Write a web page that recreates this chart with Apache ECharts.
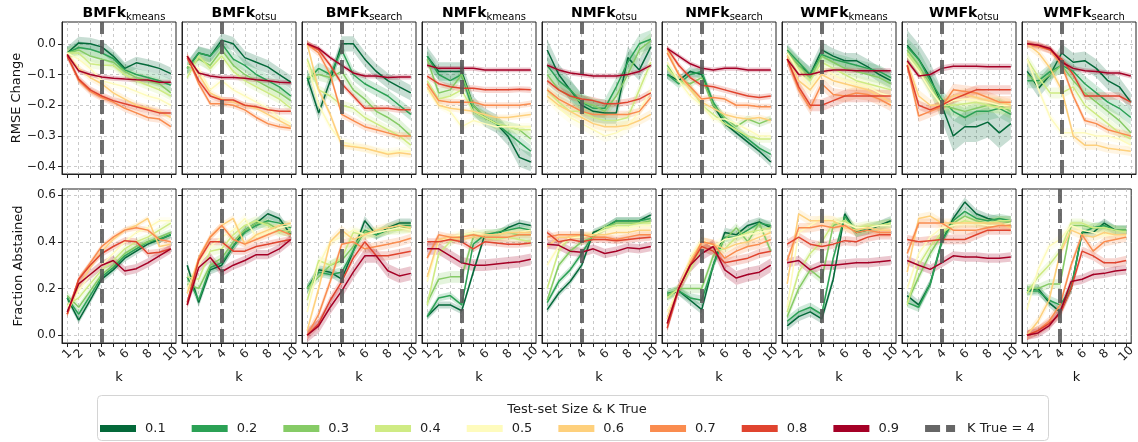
<!DOCTYPE html>
<html>
<head>
<meta charset="utf-8">
<script src="https://cdn.jsdelivr.net/npm/echarts@6/dist/echarts.min.js"></script>
<style>
html, body { margin: 0; padding: 0; background: #fff; }
#chart { width: 1138px; height: 442px; }
</style>
</head>
<body>
<div id="chart"></div>
<script>
var kValues = [1, 2, 3, 4, 5, 6, 7, 8, 9, 10];
var kLabelValues = [1, 2, 4, 6, 8, 10];
var kTrue = 4;
var testSizes = ['0.1', '0.2', '0.3', '0.4', '0.5', '0.6', '0.7', '0.8', '0.9'];
var methodNames = ['BMFk', 'BMFk', 'BMFk', 'NMFk', 'NMFk', 'NMFk', 'WMFk', 'WMFk', 'WMFk'];
var methodSubs = ['kmeans', 'otsu', 'search', 'kmeans', 'otsu', 'search', 'kmeans', 'otsu', 'search'];
var rmseTicks = [-0.4, -0.3, -0.2, -0.1, 0];
var abstTicks = [0, 0.2, 0.4, 0.6];

// RMSE Change, one row per test-set size (0.1 .. 0.9), values for k = 1..10
var rmseBmfkKmeans = [
	[-0.03, 0.003, 0.0, -0.01, -0.04, -0.08, -0.062, -0.07, -0.08, -0.097],
	[-0.03, -0.012, -0.018, -0.03, -0.048, -0.085, -0.1, -0.11, -0.12, -0.135],
	[-0.03, -0.02, -0.04, -0.05, -0.06, -0.09, -0.11, -0.12, -0.13, -0.16],
	[-0.03, -0.03, -0.065, -0.07, -0.07, -0.1, -0.12, -0.135, -0.15, -0.17],
	[-0.03, -0.05, -0.08, -0.12, -0.13, -0.14, -0.155, -0.17, -0.18, -0.2],
	[-0.035, -0.08, -0.11, -0.13, -0.16, -0.18, -0.2, -0.21, -0.22, -0.24],
	[-0.035, -0.12, -0.155, -0.175, -0.19, -0.21, -0.225, -0.24, -0.245, -0.27],
	[-0.04, -0.115, -0.15, -0.17, -0.185, -0.195, -0.205, -0.215, -0.225, -0.225],
	[-0.035, -0.088, -0.1, -0.108, -0.112, -0.115, -0.117, -0.118, -0.125, -0.125]
];
var rmseBmfkOtsu = [
	[-0.08, -0.03, -0.04, 0.012, 0.0, -0.045, -0.06, -0.075, -0.1, -0.125],
	[-0.08, -0.03, -0.04, 0.0, -0.05, -0.07, -0.1, -0.12, -0.14, -0.17],
	[-0.08, -0.05, -0.07, -0.02, -0.07, -0.1, -0.12, -0.14, -0.16, -0.185],
	[-0.11, -0.04, -0.08, -0.04, -0.09, -0.12, -0.14, -0.16, -0.18, -0.21],
	[-0.07, -0.08, -0.15, -0.12, -0.15, -0.17, -0.19, -0.21, -0.24, -0.26],
	[-0.04, -0.1, -0.16, -0.18, -0.19, -0.2, -0.21, -0.23, -0.25, -0.27],
	[-0.04, -0.13, -0.195, -0.195, -0.2, -0.215, -0.24, -0.26, -0.27, -0.275],
	[-0.045, -0.12, -0.17, -0.183, -0.183, -0.2, -0.205, -0.215, -0.22, -0.22],
	[-0.04, -0.095, -0.105, -0.11, -0.11, -0.112, -0.117, -0.12, -0.125, -0.127]
];
var rmseBmfkSearch = [
	[-0.11, -0.225, -0.12, 0.0, 0.0, -0.05, -0.09, -0.12, -0.14, -0.16],
	[-0.12, -0.08, -0.1, -0.02, -0.1, -0.13, -0.15, -0.17, -0.2, -0.23],
	[-0.11, -0.1, -0.11, -0.09, -0.15, -0.18, -0.22, -0.24, -0.265, -0.3],
	[-0.05, -0.15, -0.17, -0.2, -0.21, -0.24, -0.26, -0.28, -0.3, -0.33],
	[-0.06, -0.2, -0.27, -0.32, -0.33, -0.34, -0.35, -0.355, -0.35, -0.35],
	[0.0, -0.15, -0.23, -0.33, -0.335, -0.34, -0.35, -0.36, -0.355, -0.36],
	[0.0, -0.03, -0.1, -0.23, -0.25, -0.27, -0.28, -0.29, -0.3, -0.3],
	[0.0, -0.02, -0.07, -0.13, -0.17, -0.21, -0.21, -0.21, -0.215, -0.215],
	[0.0, -0.015, -0.045, -0.07, -0.095, -0.105, -0.105, -0.11, -0.108, -0.108]
];
var rmseNmfkKmeans = [
	[-0.04, -0.09, -0.09, -0.09, -0.2, -0.24, -0.26, -0.3, -0.37, -0.385],
	[-0.04, -0.1, -0.12, -0.1, -0.22, -0.24, -0.26, -0.29, -0.32, -0.35],
	[-0.05, -0.16, -0.15, -0.1, -0.2, -0.24, -0.26, -0.27, -0.28, -0.31],
	[-0.12, -0.18, -0.17, -0.15, -0.22, -0.24, -0.26, -0.27, -0.28, -0.28],
	[-0.15, -0.2, -0.22, -0.27, -0.25, -0.26, -0.27, -0.27, -0.27, -0.27],
	[-0.14, -0.2, -0.21, -0.215, -0.22, -0.23, -0.24, -0.24, -0.235, -0.23],
	[-0.13, -0.185, -0.19, -0.19, -0.19, -0.2, -0.2, -0.2, -0.2, -0.195],
	[-0.105, -0.13, -0.14, -0.145, -0.145, -0.15, -0.15, -0.15, -0.148, -0.15],
	[-0.07, -0.08, -0.08, -0.08, -0.08, -0.085, -0.085, -0.085, -0.085, -0.085]
];
var rmseNmfkOtsu = [
	[-0.02, -0.1, -0.15, -0.2, -0.22, -0.225, -0.225, -0.045, -0.085, -0.01],
	[-0.07, -0.12, -0.15, -0.19, -0.21, -0.21, -0.14, -0.06, 0.0, 0.015],
	[-0.1, -0.15, -0.17, -0.19, -0.2, -0.22, -0.17, -0.1, -0.02, 0.01],
	[-0.15, -0.19, -0.22, -0.22, -0.24, -0.25, -0.25, -0.24, -0.15, -0.06],
	[-0.17, -0.21, -0.24, -0.26, -0.28, -0.3, -0.29, -0.27, -0.22, -0.15],
	[-0.17, -0.2, -0.22, -0.24, -0.26, -0.27, -0.27, -0.265, -0.25, -0.23],
	[-0.15, -0.18, -0.2, -0.22, -0.23, -0.23, -0.23, -0.23, -0.22, -0.175],
	[-0.12, -0.15, -0.17, -0.18, -0.185, -0.195, -0.195, -0.19, -0.18, -0.16],
	[-0.07, -0.085, -0.095, -0.1, -0.105, -0.105, -0.105, -0.1, -0.09, -0.07]
];
var rmseNmfkSearch = [
	[-0.1, -0.12, -0.09, -0.1, -0.2, -0.26, -0.29, -0.32, -0.35, -0.385],
	[-0.1, -0.13, -0.1, -0.09, -0.19, -0.25, -0.28, -0.31, -0.34, -0.36],
	[-0.07, -0.12, -0.13, -0.11, -0.2, -0.24, -0.27, -0.245, -0.26, -0.245],
	[-0.08, -0.12, -0.14, -0.2, -0.23, -0.26, -0.28, -0.3, -0.31, -0.31],
	[-0.06, -0.12, -0.17, -0.2, -0.245, -0.245, -0.26, -0.28, -0.3, -0.3],
	[-0.02, -0.1, -0.15, -0.19, -0.21, -0.23, -0.24, -0.245, -0.24, -0.25],
	[-0.03, -0.1, -0.14, -0.18, -0.175, -0.18, -0.2, -0.2, -0.205, -0.205],
	[-0.015, -0.07, -0.11, -0.135, -0.14, -0.15, -0.16, -0.17, -0.175, -0.17],
	[-0.015, -0.04, -0.065, -0.08, -0.085, -0.08, -0.08, -0.085, -0.085, -0.085]
];
var rmseWmfkKmeans = [
	[-0.03, -0.07, -0.1, -0.02, -0.04, -0.055, -0.055, -0.075, -0.1, -0.12],
	[-0.02, -0.06, -0.1, -0.035, -0.05, -0.06, -0.07, -0.08, -0.09, -0.11],
	[-0.03, -0.07, -0.11, -0.04, -0.06, -0.08, -0.09, -0.1, -0.11, -0.13],
	[-0.03, -0.08, -0.12, -0.06, -0.08, -0.1, -0.12, -0.13, -0.14, -0.15],
	[-0.03, -0.09, -0.14, -0.08, -0.1, -0.12, -0.13, -0.14, -0.16, -0.17],
	[-0.04, -0.12, -0.15, -0.1, -0.12, -0.13, -0.14, -0.15, -0.17, -0.19],
	[-0.05, -0.15, -0.21, -0.13, -0.165, -0.17, -0.16, -0.165, -0.18, -0.2],
	[-0.05, -0.14, -0.2, -0.2, -0.185, -0.17, -0.17, -0.17, -0.17, -0.17],
	[-0.05, -0.1, -0.1, -0.09, -0.085, -0.085, -0.088, -0.088, -0.088, -0.088]
];
var rmseWmfkOtsu = [
	[-0.005, -0.05, -0.11, -0.2, -0.3, -0.27, -0.27, -0.255, -0.29, -0.26],
	[-0.01, -0.05, -0.12, -0.18, -0.22, -0.24, -0.22, -0.22, -0.21, -0.23],
	[-0.02, -0.07, -0.13, -0.2, -0.21, -0.22, -0.21, -0.2, -0.2, -0.22],
	[-0.03, -0.08, -0.15, -0.2, -0.2, -0.195, -0.19, -0.2, -0.21, -0.21],
	[-0.04, -0.09, -0.15, -0.2, -0.185, -0.18, -0.185, -0.19, -0.2, -0.2],
	[-0.06, -0.17, -0.2, -0.2, -0.17, -0.165, -0.175, -0.185, -0.19, -0.2],
	[-0.07, -0.235, -0.22, -0.205, -0.15, -0.155, -0.16, -0.175, -0.19, -0.19],
	[-0.07, -0.2, -0.215, -0.2, -0.18, -0.165, -0.15, -0.15, -0.15, -0.15],
	[-0.055, -0.105, -0.1, -0.08, -0.073, -0.073, -0.073, -0.075, -0.075, -0.075]
];
var rmseWmfkSearch = [
	[-0.09, -0.145, -0.1, -0.03, -0.06, -0.055, -0.08, -0.12, -0.14, -0.19],
	[-0.12, -0.12, -0.09, -0.07, -0.09, -0.13, -0.16, -0.19, -0.21, -0.24],
	[-0.1, -0.13, -0.1, -0.07, -0.12, -0.16, -0.19, -0.22, -0.25, -0.29],
	[-0.05, -0.11, -0.16, -0.16, -0.14, -0.2, -0.23, -0.26, -0.29, -0.31],
	[-0.05, -0.15, -0.24, -0.29, -0.29, -0.29, -0.3, -0.3, -0.31, -0.33],
	[0.0, -0.03, -0.08, -0.15, -0.3, -0.33, -0.33, -0.34, -0.345, -0.35],
	[0.0, -0.01, -0.02, -0.07, -0.17, -0.25, -0.26, -0.28, -0.29, -0.3],
	[0.0, -0.005, -0.02, -0.05, -0.1, -0.17, -0.17, -0.17, -0.17, -0.19],
	[0.0, -0.005, -0.015, -0.06, -0.08, -0.088, -0.09, -0.095, -0.095, -0.105]
];

// Fraction Abstained
var abstBmfkKmeans = [
	[0.16, 0.065, 0.15, 0.24, 0.28, 0.33, 0.36, 0.39, 0.41, 0.43],
	[0.16, 0.09, 0.17, 0.25, 0.29, 0.34, 0.37, 0.4, 0.41, 0.43],
	[0.17, 0.12, 0.19, 0.26, 0.3, 0.35, 0.38, 0.4, 0.42, 0.44],
	[0.13, 0.16, 0.22, 0.28, 0.32, 0.37, 0.4, 0.42, 0.45, 0.48],
	[0.12, 0.19, 0.26, 0.3, 0.35, 0.4, 0.44, 0.46, 0.49, 0.49],
	[0.09, 0.21, 0.29, 0.36, 0.41, 0.45, 0.47, 0.5, 0.38, 0.39],
	[0.09, 0.24, 0.31, 0.38, 0.42, 0.45, 0.46, 0.45, 0.41, 0.4],
	[0.09, 0.24, 0.3, 0.35, 0.38, 0.405, 0.4, 0.35, 0.355, 0.37],
	[0.1, 0.22, 0.26, 0.3, 0.32, 0.275, 0.285, 0.31, 0.34, 0.37]
];
var abstBmfkOtsu = [
	[0.3, 0.14, 0.28, 0.3, 0.38, 0.45, 0.48, 0.52, 0.5, 0.43],
	[0.25, 0.15, 0.29, 0.31, 0.38, 0.44, 0.47, 0.49, 0.48, 0.46],
	[0.22, 0.2, 0.3, 0.33, 0.4, 0.45, 0.48, 0.48, 0.45, 0.44],
	[0.25, 0.24, 0.36, 0.37, 0.43, 0.47, 0.49, 0.47, 0.44, 0.45],
	[0.2, 0.3, 0.38, 0.42, 0.45, 0.5, 0.42, 0.44, 0.46, 0.47],
	[0.18, 0.33, 0.42, 0.47, 0.5, 0.39, 0.43, 0.45, 0.47, 0.48],
	[0.13, 0.33, 0.42, 0.47, 0.41, 0.39, 0.41, 0.43, 0.45, 0.43],
	[0.14, 0.32, 0.4, 0.4, 0.36, 0.36, 0.38, 0.39, 0.4, 0.41],
	[0.13, 0.29, 0.333, 0.272, 0.3, 0.32, 0.345, 0.345, 0.37, 0.41]
];
var abstBmfkSearch = [
	[0.2, 0.28, 0.27, 0.24, 0.36, 0.49, 0.43, 0.46, 0.48, 0.48],
	[0.2, 0.27, 0.26, 0.27, 0.36, 0.45, 0.43, 0.45, 0.47, 0.47],
	[0.2, 0.25, 0.3, 0.32, 0.38, 0.44, 0.44, 0.45, 0.46, 0.46],
	[0.15, 0.32, 0.3, 0.33, 0.44, 0.43, 0.44, 0.45, 0.45, 0.46],
	[0.1, 0.3, 0.4, 0.42, 0.45, 0.43, 0.44, 0.45, 0.46, 0.45],
	[0.02, 0.2, 0.4, 0.45, 0.41, 0.43, 0.45, 0.46, 0.47, 0.46],
	[0.0, 0.09, 0.23, 0.39, 0.4, 0.37, 0.38, 0.39, 0.4, 0.415],
	[0.0, 0.05, 0.15, 0.23, 0.33, 0.4, 0.34, 0.34, 0.35, 0.36],
	[0.0, 0.04, 0.12, 0.19, 0.27, 0.34, 0.34, 0.276, 0.254, 0.265]
];
var abstNmfkKmeans = [
	[0.08, 0.13, 0.13, 0.105, 0.27, 0.43, 0.43, 0.46, 0.48, 0.47],
	[0.08, 0.16, 0.17, 0.13, 0.39, 0.43, 0.44, 0.45, 0.46, 0.45],
	[0.14, 0.24, 0.25, 0.25, 0.42, 0.43, 0.43, 0.44, 0.43, 0.43],
	[0.13, 0.35, 0.4, 0.43, 0.43, 0.42, 0.41, 0.42, 0.41, 0.4],
	[0.23, 0.4, 0.42, 0.43, 0.44, 0.43, 0.43, 0.44, 0.44, 0.45],
	[0.25, 0.41, 0.42, 0.41, 0.42, 0.43, 0.43, 0.44, 0.44, 0.44],
	[0.33, 0.43, 0.42, 0.42, 0.43, 0.42, 0.42, 0.42, 0.43, 0.43],
	[0.4, 0.4, 0.41, 0.4, 0.37, 0.4, 0.395, 0.39, 0.39, 0.395],
	[0.37, 0.37, 0.34, 0.31, 0.3, 0.3, 0.305, 0.31, 0.315, 0.325]
];
var abstNmfkOtsu = [
	[0.11, 0.18, 0.23, 0.3, 0.44, 0.46, 0.49, 0.49, 0.49, 0.515],
	[0.14, 0.23, 0.28, 0.35, 0.43, 0.46, 0.49, 0.49, 0.49, 0.5],
	[0.15, 0.3, 0.36, 0.4, 0.42, 0.46, 0.48, 0.48, 0.48, 0.49],
	[0.2, 0.36, 0.42, 0.42, 0.43, 0.46, 0.47, 0.47, 0.48, 0.48],
	[0.3, 0.38, 0.42, 0.42, 0.43, 0.45, 0.46, 0.46, 0.47, 0.47],
	[0.38, 0.42, 0.42, 0.43, 0.43, 0.43, 0.44, 0.44, 0.45, 0.45],
	[0.42, 0.43, 0.43, 0.43, 0.42, 0.42, 0.41, 0.42, 0.43, 0.43],
	[0.44, 0.4, 0.41, 0.4, 0.41, 0.41, 0.405, 0.41, 0.415, 0.42],
	[0.39, 0.385, 0.36, 0.355, 0.37, 0.35, 0.36, 0.375, 0.37, 0.38]
];
var abstNmfkSearch = [
	[0.17, 0.19, 0.15, 0.11, 0.3, 0.44, 0.43, 0.47, 0.485, 0.46],
	[0.18, 0.19, 0.16, 0.15, 0.3, 0.42, 0.42, 0.45, 0.48, 0.47],
	[0.17, 0.2, 0.2, 0.2, 0.34, 0.41, 0.46, 0.4, 0.48, 0.36],
	[0.16, 0.2, 0.28, 0.38, 0.36, 0.37, 0.42, 0.44, 0.45, 0.46],
	[0.1, 0.2, 0.33, 0.41, 0.38, 0.41, 0.42, 0.43, 0.44, 0.45],
	[0.07, 0.2, 0.32, 0.4, 0.39, 0.37, 0.39, 0.4, 0.42, 0.44],
	[0.05, 0.2, 0.3, 0.4, 0.39, 0.33, 0.36, 0.38, 0.39, 0.41],
	[0.03, 0.2, 0.3, 0.38, 0.36, 0.31, 0.32, 0.33, 0.35, 0.36],
	[0.05, 0.2, 0.3, 0.35, 0.38, 0.28, 0.245, 0.26, 0.27, 0.3]
];
var abstWmfkKmeans = [
	[0.04, 0.08, 0.1, 0.07, 0.24, 0.52, 0.44, 0.45, 0.47, 0.49],
	[0.06, 0.1, 0.12, 0.09, 0.33, 0.51, 0.44, 0.46, 0.47, 0.48],
	[0.08, 0.2, 0.28, 0.24, 0.47, 0.49, 0.45, 0.46, 0.47, 0.48],
	[0.1, 0.27, 0.35, 0.4, 0.48, 0.49, 0.46, 0.47, 0.47, 0.48],
	[0.12, 0.44, 0.47, 0.5, 0.49, 0.48, 0.46, 0.46, 0.47, 0.47],
	[0.22, 0.52, 0.49, 0.49, 0.49, 0.46, 0.45, 0.46, 0.45, 0.45],
	[0.32, 0.46, 0.46, 0.47, 0.46, 0.47, 0.44, 0.45, 0.44, 0.44],
	[0.39, 0.42, 0.39, 0.38, 0.39, 0.405, 0.4, 0.42, 0.43, 0.43],
	[0.31, 0.32, 0.28, 0.3, 0.3, 0.305, 0.31, 0.31, 0.315, 0.32]
];
var abstWmfkOtsu = [
	[0.17, 0.13, 0.22, 0.4, 0.5, 0.57, 0.52, 0.5, 0.49, 0.49],
	[0.14, 0.12, 0.22, 0.4, 0.49, 0.53, 0.5, 0.49, 0.5, 0.49],
	[0.14, 0.25, 0.35, 0.43, 0.48, 0.51, 0.49, 0.48, 0.49, 0.48],
	[0.13, 0.3, 0.38, 0.44, 0.47, 0.49, 0.48, 0.48, 0.49, 0.49],
	[0.2, 0.35, 0.42, 0.46, 0.47, 0.48, 0.48, 0.47, 0.47, 0.48],
	[0.27, 0.5, 0.51, 0.48, 0.48, 0.48, 0.48, 0.48, 0.48, 0.46],
	[0.35, 0.48, 0.48, 0.48, 0.45, 0.45, 0.45, 0.46, 0.47, 0.47],
	[0.41, 0.4, 0.405, 0.41, 0.41, 0.41, 0.43, 0.45, 0.45, 0.45],
	[0.32, 0.3, 0.282, 0.31, 0.34, 0.335, 0.335, 0.33, 0.33, 0.335]
];
var abstWmfkSearch = [
	[0.19, 0.2, 0.14, 0.1, 0.2, 0.44, 0.44, 0.48, 0.45, 0.45],
	[0.19, 0.19, 0.15, 0.13, 0.2, 0.44, 0.46, 0.47, 0.45, 0.45],
	[0.2, 0.2, 0.22, 0.22, 0.47, 0.47, 0.46, 0.46, 0.45, 0.45],
	[0.18, 0.25, 0.3, 0.36, 0.48, 0.48, 0.46, 0.46, 0.45, 0.44],
	[0.11, 0.28, 0.38, 0.41, 0.47, 0.45, 0.44, 0.43, 0.43, 0.43],
	[0.0, 0.06, 0.15, 0.35, 0.45, 0.43, 0.42, 0.44, 0.43, 0.43],
	[0.0, 0.02, 0.06, 0.13, 0.3, 0.43, 0.36, 0.4, 0.41, 0.42],
	[0.0, 0.02, 0.05, 0.09, 0.2, 0.36, 0.34, 0.31, 0.31, 0.32],
	[0.0, 0.01, 0.04, 0.1, 0.23, 0.24, 0.26, 0.265, 0.275, 0.28]
];

// half-width of the shaded band, one value per test-set size
var rmseBands = [
	[0.02, 0.02, 0.018, 0.015, 0.012, 0.012, 0.012, 0.012, 0.008],
	[0.022, 0.02, 0.018, 0.015, 0.012, 0.01, 0.01, 0.01, 0.008],
	[0.025, 0.02, 0.02, 0.015, 0.015, 0.012, 0.012, 0.01, 0.008],
	[0.03, 0.02, 0.018, 0.015, 0.012, 0.01, 0.01, 0.01, 0.008],
	[0.035, 0.03, 0.025, 0.02, 0.02, 0.015, 0.012, 0.012, 0.008],
	[0.015, 0.015, 0.012, 0.012, 0.012, 0.01, 0.01, 0.01, 0.008],
	[0.025, 0.02, 0.02, 0.018, 0.018, 0.018, 0.02, 0.02, 0.008],
	[0.05, 0.03, 0.025, 0.02, 0.02, 0.02, 0.02, 0.015, 0.01],
	[0.03, 0.025, 0.02, 0.018, 0.015, 0.015, 0.012, 0.012, 0.008]
];
var abstBands = [
	[0.015, 0.015, 0.015, 0.015, 0.015, 0.012, 0.012, 0.015, 0.02],
	[0.02, 0.02, 0.02, 0.02, 0.02, 0.015, 0.015, 0.015, 0.02],
	[0.02, 0.02, 0.02, 0.02, 0.02, 0.02, 0.02, 0.02, 0.03],
	[0.015, 0.015, 0.025, 0.02, 0.02, 0.015, 0.015, 0.015, 0.025],
	[0.015, 0.015, 0.015, 0.015, 0.015, 0.015, 0.015, 0.015, 0.02],
	[0.02, 0.02, 0.02, 0.02, 0.02, 0.02, 0.02, 0.02, 0.03],
	[0.02, 0.02, 0.02, 0.02, 0.02, 0.02, 0.02, 0.02, 0.02],
	[0.02, 0.02, 0.02, 0.02, 0.02, 0.02, 0.02, 0.02, 0.02],
	[0.02, 0.02, 0.02, 0.02, 0.02, 0.02, 0.02, 0.02, 0.02]
];

var rmsePanels = [rmseBmfkKmeans, rmseBmfkOtsu, rmseBmfkSearch, rmseNmfkKmeans, rmseNmfkOtsu, rmseNmfkSearch, rmseWmfkKmeans, rmseWmfkOtsu, rmseWmfkSearch];
var abstPanels = [abstBmfkKmeans, abstBmfkOtsu, abstBmfkSearch, abstNmfkKmeans, abstNmfkOtsu, abstNmfkSearch, abstWmfkKmeans, abstWmfkOtsu, abstWmfkSearch];

var colors = ['#04693a', '#2ba155', '#86cb66', '#cfeb84', '#fefbbd', '#fed07c', '#fa8c4f', '#e0442f', '#a50026'];
var font = 'DejaVu Sans';
var kTrueName = 'K True = 4';

var chart = echarts.init(document.getElementById('chart'));

var grids = [], xAxes = [], yAxes = [], titles = [], series = [];

function minusFmt(v) {
	var s = Math.abs(v).toFixed(1);
	return v < -1e-9 ? '\u2212' + s : s;
}

// 阴影带: 每个测试集大小一个多边形
function bandRenderer(vals, bands) {
	return function(params, api) {
		var j = params.dataIndex;
		var up = [], down = [];
		for (var i = 0; i < kValues.length; i++) {
			up.push(api.coord([kValues[i], vals[j][i] + bands[j]]));
			down.unshift(api.coord([kValues[i], vals[j][i] - bands[j]]));
		}
		return {
			type: 'polygon',
			shape: { points: up.concat(down) },
			style: { fill: colors[j], opacity: 0.22 }
		};
	};
}

for (var row = 0; row < 2; row++) {
	for (var col = 0; col < 9; col++) {
		var p = row * 9 + col;
		var left = 62 + 120 * col;
		grids.push({
			left: left, top: row === 0 ? 22 : 189, width: 114, height: row === 0 ? 152 : 154,
			show: true, borderColor: '#222', borderWidth: 1
		});
		xAxes.push({
			gridIndex: p, type: 'value', min: 0.55, max: 10.45,
			axisLine: { show: true, onZero: false, lineStyle: { color: '#222' } },
			axisTick: { show: true, customValues: kValues, length: 4, lineStyle: { color: '#222' } },
			axisLabel: row === 1 ? {
				show: true, customValues: kLabelValues, rotate: 45, align: 'center', verticalAlign: 'middle',
				margin: 11, fontSize: 12, color: '#222', fontFamily: font
			} : { show: false },
			splitLine: { show: true, lineStyle: { type: [3, 3], color: '#bdbdbd', width: 0.8 } },
			name: row === 1 ? 'k' : '', nameLocation: 'middle', nameGap: 28,
			nameTextStyle: { fontSize: 13, color: '#111', fontFamily: font }
		});
		yAxes.push({
			gridIndex: p, type: 'value',
			min: row === 0 ? -0.424 : -0.033, max: row === 0 ? 0.071 : 0.626,
			axisLine: { show: true, onZero: false, lineStyle: { color: '#222' } },
			axisTick: { show: true, customValues: row === 0 ? rmseTicks : abstTicks, length: 4, lineStyle: { color: '#222' } },
			axisLabel: col === 0 ? {
				show: true, customValues: row === 0 ? rmseTicks : abstTicks, margin: 6,
				fontSize: 12, color: '#222', fontFamily: font, formatter: minusFmt
			} : { show: false },
			splitLine: { show: true, lineStyle: { type: [3, 3], color: '#bdbdbd', width: 0.8 } },
			name: col === 0 ? (row === 0 ? 'RMSE Change' : 'Fraction Abstained') : '',
			nameLocation: 'middle', nameGap: 37,
			nameTextStyle: { fontSize: 13, color: '#111', fontFamily: font }
		});
		if (row === 0) {
			titles.push({
				text: '{a|' + methodNames[col] + '}{b|' + methodSubs[col] + '}',
				left: left + 57, top: 1, textAlign: 'center',
				textStyle: {
					fontWeight: 'normal',
					rich: {
						a: { fontSize: 14, fontWeight: 'bold', color: '#000', fontFamily: font, verticalAlign: 'bottom', padding: [0, 0, 2, 0] },
						b: { fontSize: 10, fontWeight: 'normal', color: '#000', fontFamily: font, verticalAlign: 'bottom' }
					}
				}
			});
		}

		var vals = row === 0 ? rmsePanels[col] : abstPanels[col];
		var bands = row === 0 ? rmseBands[col] : abstBands[col];

		series.push({
			type: 'custom', name: 'band', xAxisIndex: p, yAxisIndex: p, silent: true, z: 1,
			renderItem: bandRenderer(vals, bands),
			data: testSizes.map(function(s, j) { return [j]; })
		});
		testSizes.forEach(function(name, j) {
			series.push({
				type: 'line', name: name, xAxisIndex: p, yAxisIndex: p,
				color: colors[j], showSymbol: false, silent: true, z: 2,
				lineStyle: { width: 1.5, color: colors[j] },
				data: kValues.map(function(k, i) { return [k, vals[j][i]]; })
			});
		});
		series.push({
			type: 'line', name: kTrueName, xAxisIndex: p, yAxisIndex: p,
			color: '#666', data: [], silent: true, z: 3,
			markLine: {
				silent: true, symbol: ['none', 'none'], label: { show: false },
				lineStyle: { type: [14, 6], width: 4, color: '#555', opacity: 0.85 },
				emphasis: { disabled: true },
				data: [{ xAxis: kTrue }]
			}
		});
	}
}

titles.push({
	text: 'Test-set Size & K True', left: 572, top: 398, textAlign: 'center',
	textStyle: { fontSize: 13, fontWeight: 'normal', color: '#222', fontFamily: font }
});

var legendData = testSizes.map(function(name) { return { name: name, icon: 'rect' }; });
legendData.push({ name: kTrueName, icon: 'path://M0,0h15v7h-15z M21,0h9v7h-9z' });

var option = {
	animation: false,
	title: titles,
	grid: grids,
	xAxis: xAxes,
	yAxis: yAxes,
	graphic: [{
		type: 'rect', silent: true, z: 0,
		shape: { x: 97.5, y: 395.5, width: 951, height: 45, r: 4 },
		style: { fill: '#fff', stroke: '#d4d4d4', lineWidth: 1 }
	}],
	legend: {
		data: legendData, left: 100, top: 422, padding: 0,
		itemWidth: 36, itemHeight: 7, itemGap: 26, selectedMode: false,
		itemStyle: { borderWidth: 0 },
		textStyle: { fontSize: 13, color: '#222', fontFamily: font, padding: [0, 0, 0, 4] }
	},
	series: series
};

chart.setOption(option);
</script>
</body>
</html>
